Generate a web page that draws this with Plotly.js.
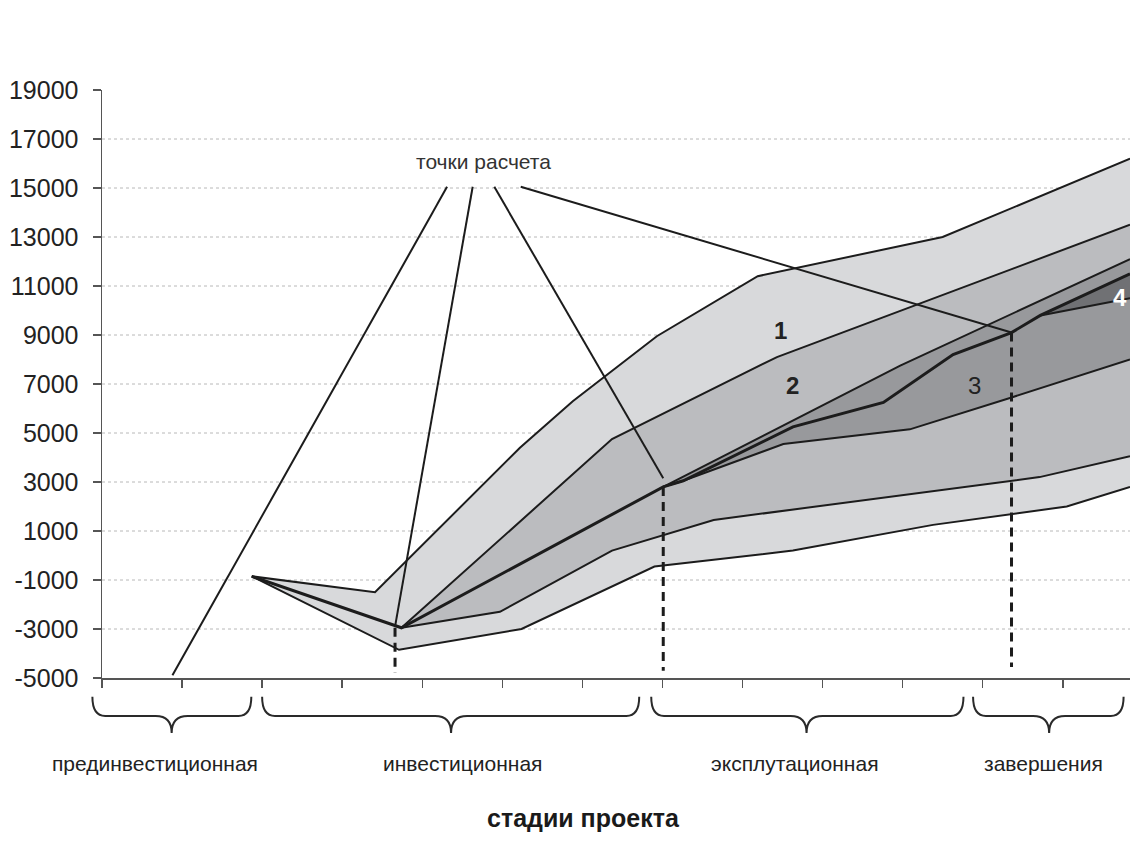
<!DOCTYPE html>
<html><head><meta charset="utf-8">
<script src="https://cdn.plot.ly/plotly-3.0.1.min.js"></script>
<style>html,body{margin:0;padding:0;background:#fff}</style>
</head><body>
<div id="chart" style="width:1130px;height:852px"></div>
<script>
// ---------- data (x: project periods along the stage axis, y: value) ----------
const periods = [0,1,2,3,4,5,6,7,8,9,10,11,12];
const yTicks = [-5000,-3000,-1000,1000,3000,5000,7000,9000,11000,13000,15000,17000,19000];
const yTickLabels = ['-5000','-3000','-1000','1000','3000','5000','7000','9000','11000','13000','15000','17000','19000'];

const band1UpperX = [1.87, 3.41, 5.22, 5.88, 6.93, 8.19, 10.50, 12.84];
const band1UpperY = [-850, -1500, 4400, 6300, 8950, 11400, 13000, 16200];
const band1LowerX = [1.87, 3.71, 5.24, 6.90, 8.63, 10.38, 12.05, 12.84];
const band1LowerY = [-850, -3850, -3000, -450, 200, 1250, 2000, 2800];

const band2UpperX = [3.74, 6.37, 8.43, 12.84];
const band2UpperY = [-2950, 4750, 8100, 13500];
const band2LowerX = [3.74, 4.97, 6.37, 7.64, 11.71, 12.84];
const band2LowerY = [-2950, -2300, 200, 1450, 3200, 4050];

const band3UpperX = [7.01, 9.97, 12.84];
const band3UpperY = [2800, 7750, 12100];
const band3LowerX = [7.01, 7.26, 8.51, 10.09, 11.36, 12.84];
const band3LowerY = [2800, 3050, 4550, 5150, 6450, 8000];

const band4UpperX = [11.72, 12.84];
const band4UpperY = [9800, 11500];
const band4LowerX = [11.72, 12.59, 12.84];
const band4LowerY = [9800, 10350, 10500];

const centralX = [1.87, 3.74, 7.01, 7.26, 8.63, 9.76, 10.63, 11.36, 11.72, 12.84];
const centralY = [-850, -2950, 2800, 3050, 5250, 6250, 8200, 9100, 9800, 11500];

const calcLabel = 'точки расчета';
const calcStartX = [4.31, 4.63, 4.90, 5.23];
const calcStartY = [15050, 15050, 15050, 15050];
const calcPointX = [0.88, 3.66, 7.01, 11.36];
const calcPointY = [-4890, -2900, 3150, 9100];
const calcDashTopY = [null, -2950, 2800, 9100];
const calcDashEndY = [null, -4800, -4700, -4550];

const bandLabels = ['1', '2', '3', '4'];
const bandLabelX = [8.47, 8.63, 10.90, 12.71];
const bandLabelY = [9200, 6950, 6950, 10550];

const stageNames = ['прединвестиционная', 'инвестиционная', 'эксплутационная', 'завершения'];
const axisTitle = 'стадии проекта';

// ---------- styling / layout constants ----------
const FONT = '"Liberation Sans", Arial, Helvetica, sans-serif';
const INK = '#1c1c1c';
const bandColors = ['#d8d9db', '#bbbcbf', '#98999c', '#707174'];
const X_MAX = 12.84;
const stageLayout = [ // brace start, end, tip, label centre (x units)
  {x0:-0.12, x1:1.865, xt:0.87, xl:0.66},
  {x0:2.00, x1:6.71, xt:4.36, xl:4.50},
  {x0:6.86, x1:10.76, xt:8.80, xl:8.65},
  {x0:10.88, x1:12.76, xt:11.83, xl:11.76}
];

function poly(ux, uy, lx, ly, color) {
  return {
    type:'scatter', mode:'lines', hoverinfo:'skip',
    x: ux.concat(lx.slice().reverse()),
    y: uy.concat(ly.slice().reverse()),
    fill:'toself', fillcolor:color, line:{width:0, color:color}
  };
}
function line(x, y, w, dash) {
  return {type:'scatter', mode:'lines', hoverinfo:'skip', x:x, y:y,
          line:{color:INK, width:w, dash:dash || 'solid'}};
}

const traces = [
  poly(band1UpperX, band1UpperY, band1LowerX, band1LowerY, bandColors[0]),
  poly(band2UpperX, band2UpperY, band2LowerX, band2LowerY, bandColors[1]),
  poly(band3UpperX, band3UpperY, band3LowerX, band3LowerY, bandColors[2]),
  poly(band4UpperX, band4UpperY, band4LowerX, band4LowerY, bandColors[3]),
  line(band1UpperX, band1UpperY, 2),
  line(band1LowerX, band1LowerY, 2),
  line(band2UpperX, band2UpperY, 2),
  line(band2LowerX, band2LowerY, 2),
  line(band3UpperX, band3UpperY, 2),
  line(band3LowerX, band3LowerY, 2),
  line(band4LowerX, band4LowerY, 2),
  line(centralX, centralY, 3)
];
for (let i = 0; i < calcStartX.length; i++) {
  traces.push(line([calcStartX[i], calcPointX[i]], [calcStartY[i], calcPointY[i]], 2));
  if (calcDashTopY[i] !== null) {
    traces.push(line([calcPointX[i], calcPointX[i]], [calcDashTopY[i], calcDashEndY[i]], 3, '9px,6px'));
  }
}

// grid lines (dotted) between the bottom and top ticks
const shapes = yTicks.slice(1, -1).map(v => ({
  type:'line', xref:'paper', yref:'y', x0:0, x1:1, y0:v, y1:v, layer:'below',
  line:{color:'#b8b8b8', width:1, dash:'dot'}
}));

// stage braces below the axis (paper units, so they are not clipped)
const yTop = -0.032, yMid = -0.0646, yTip = -0.0935;
const px = v => v / X_MAX;
stageLayout.forEach(s => {
  const e = 0.16, t = 0.2;
  const p = `M ${px(s.x0)},${yTop} Q ${px(s.x0)},${yMid} ${px(s.x0+e)},${yMid} L ${px(s.xt-t)},${yMid} ` +
            `Q ${px(s.xt)},${yMid} ${px(s.xt)},${yTip} Q ${px(s.xt)},${yMid} ${px(s.xt+t)},${yMid} ` +
            `L ${px(s.x1-e)},${yMid} Q ${px(s.x1)},${yMid} ${px(s.x1)},${yTop}`;
  shapes.push({type:'path', xref:'paper', yref:'paper', path:p, line:{color:'#2a2a2a', width:2}});
});

const annotations = [];
stageNames.forEach((n, i) => annotations.push({
  xref:'x', yref:'paper', x:stageLayout[i].xl, y:-0.1446, text:n, showarrow:false,
  xanchor:'center', yanchor:'middle', font:{family:FONT, size:21, color:'#222'}
}));
annotations.push({xref:'x', yref:'paper', x:6.02, y:-0.238, text:'<b>' + axisTitle + '</b>', showarrow:false,
  xanchor:'center', yanchor:'middle', font:{family:FONT, size:25, color:'#1a1a1a'}});
annotations.push({xref:'x', yref:'y', x:4.76, y:16100, text:calcLabel, showarrow:false,
  xanchor:'center', yanchor:'middle', font:{family:FONT, size:21, color:'#333'}});
bandLabels.forEach((b, i) => annotations.push({
  xref:'x', yref:'y', x:bandLabelX[i], y:bandLabelY[i], showarrow:false,
  text: i === 2 ? b : '<b>' + b + '</b>', xanchor:'center', yanchor:'middle',
  font:{family:FONT, size:24, color: i === 3 ? '#ffffff' : '#222'}
}));

const layout = {
  width:1130, height:852,
  margin:{l:102, r:0, t:90, b:174, pad:0},
  paper_bgcolor:'#fff', plot_bgcolor:'#fff',
  showlegend:false,
  font:{family:FONT, color:'#222'},
  xaxis:{range:[0, X_MAX], tickvals:periods, ticktext:periods.map(() => ''),
         ticks:'outside', ticklen:8, tickwidth:1.5, tickcolor:'#555',
         showline:true, linecolor:'#555', linewidth:1.5, showgrid:false, zeroline:false},
  yaxis:{range:[-5000, 19000], tickvals:yTicks, ticktext:yTickLabels,
         ticks:'outside', ticklen:8, tickwidth:1.5, tickcolor:'#555', ticklabelstandoff:9,
         showline:true, linecolor:'#555', linewidth:1.5, showgrid:false, zeroline:false,
         tickfont:{family:FONT, size:25, color:'#222'}},
  shapes:shapes,
  annotations:annotations
};

Plotly.newPlot('chart', traces, layout, {displayModeBar:false, staticPlot:true});
</script>
</body></html>
